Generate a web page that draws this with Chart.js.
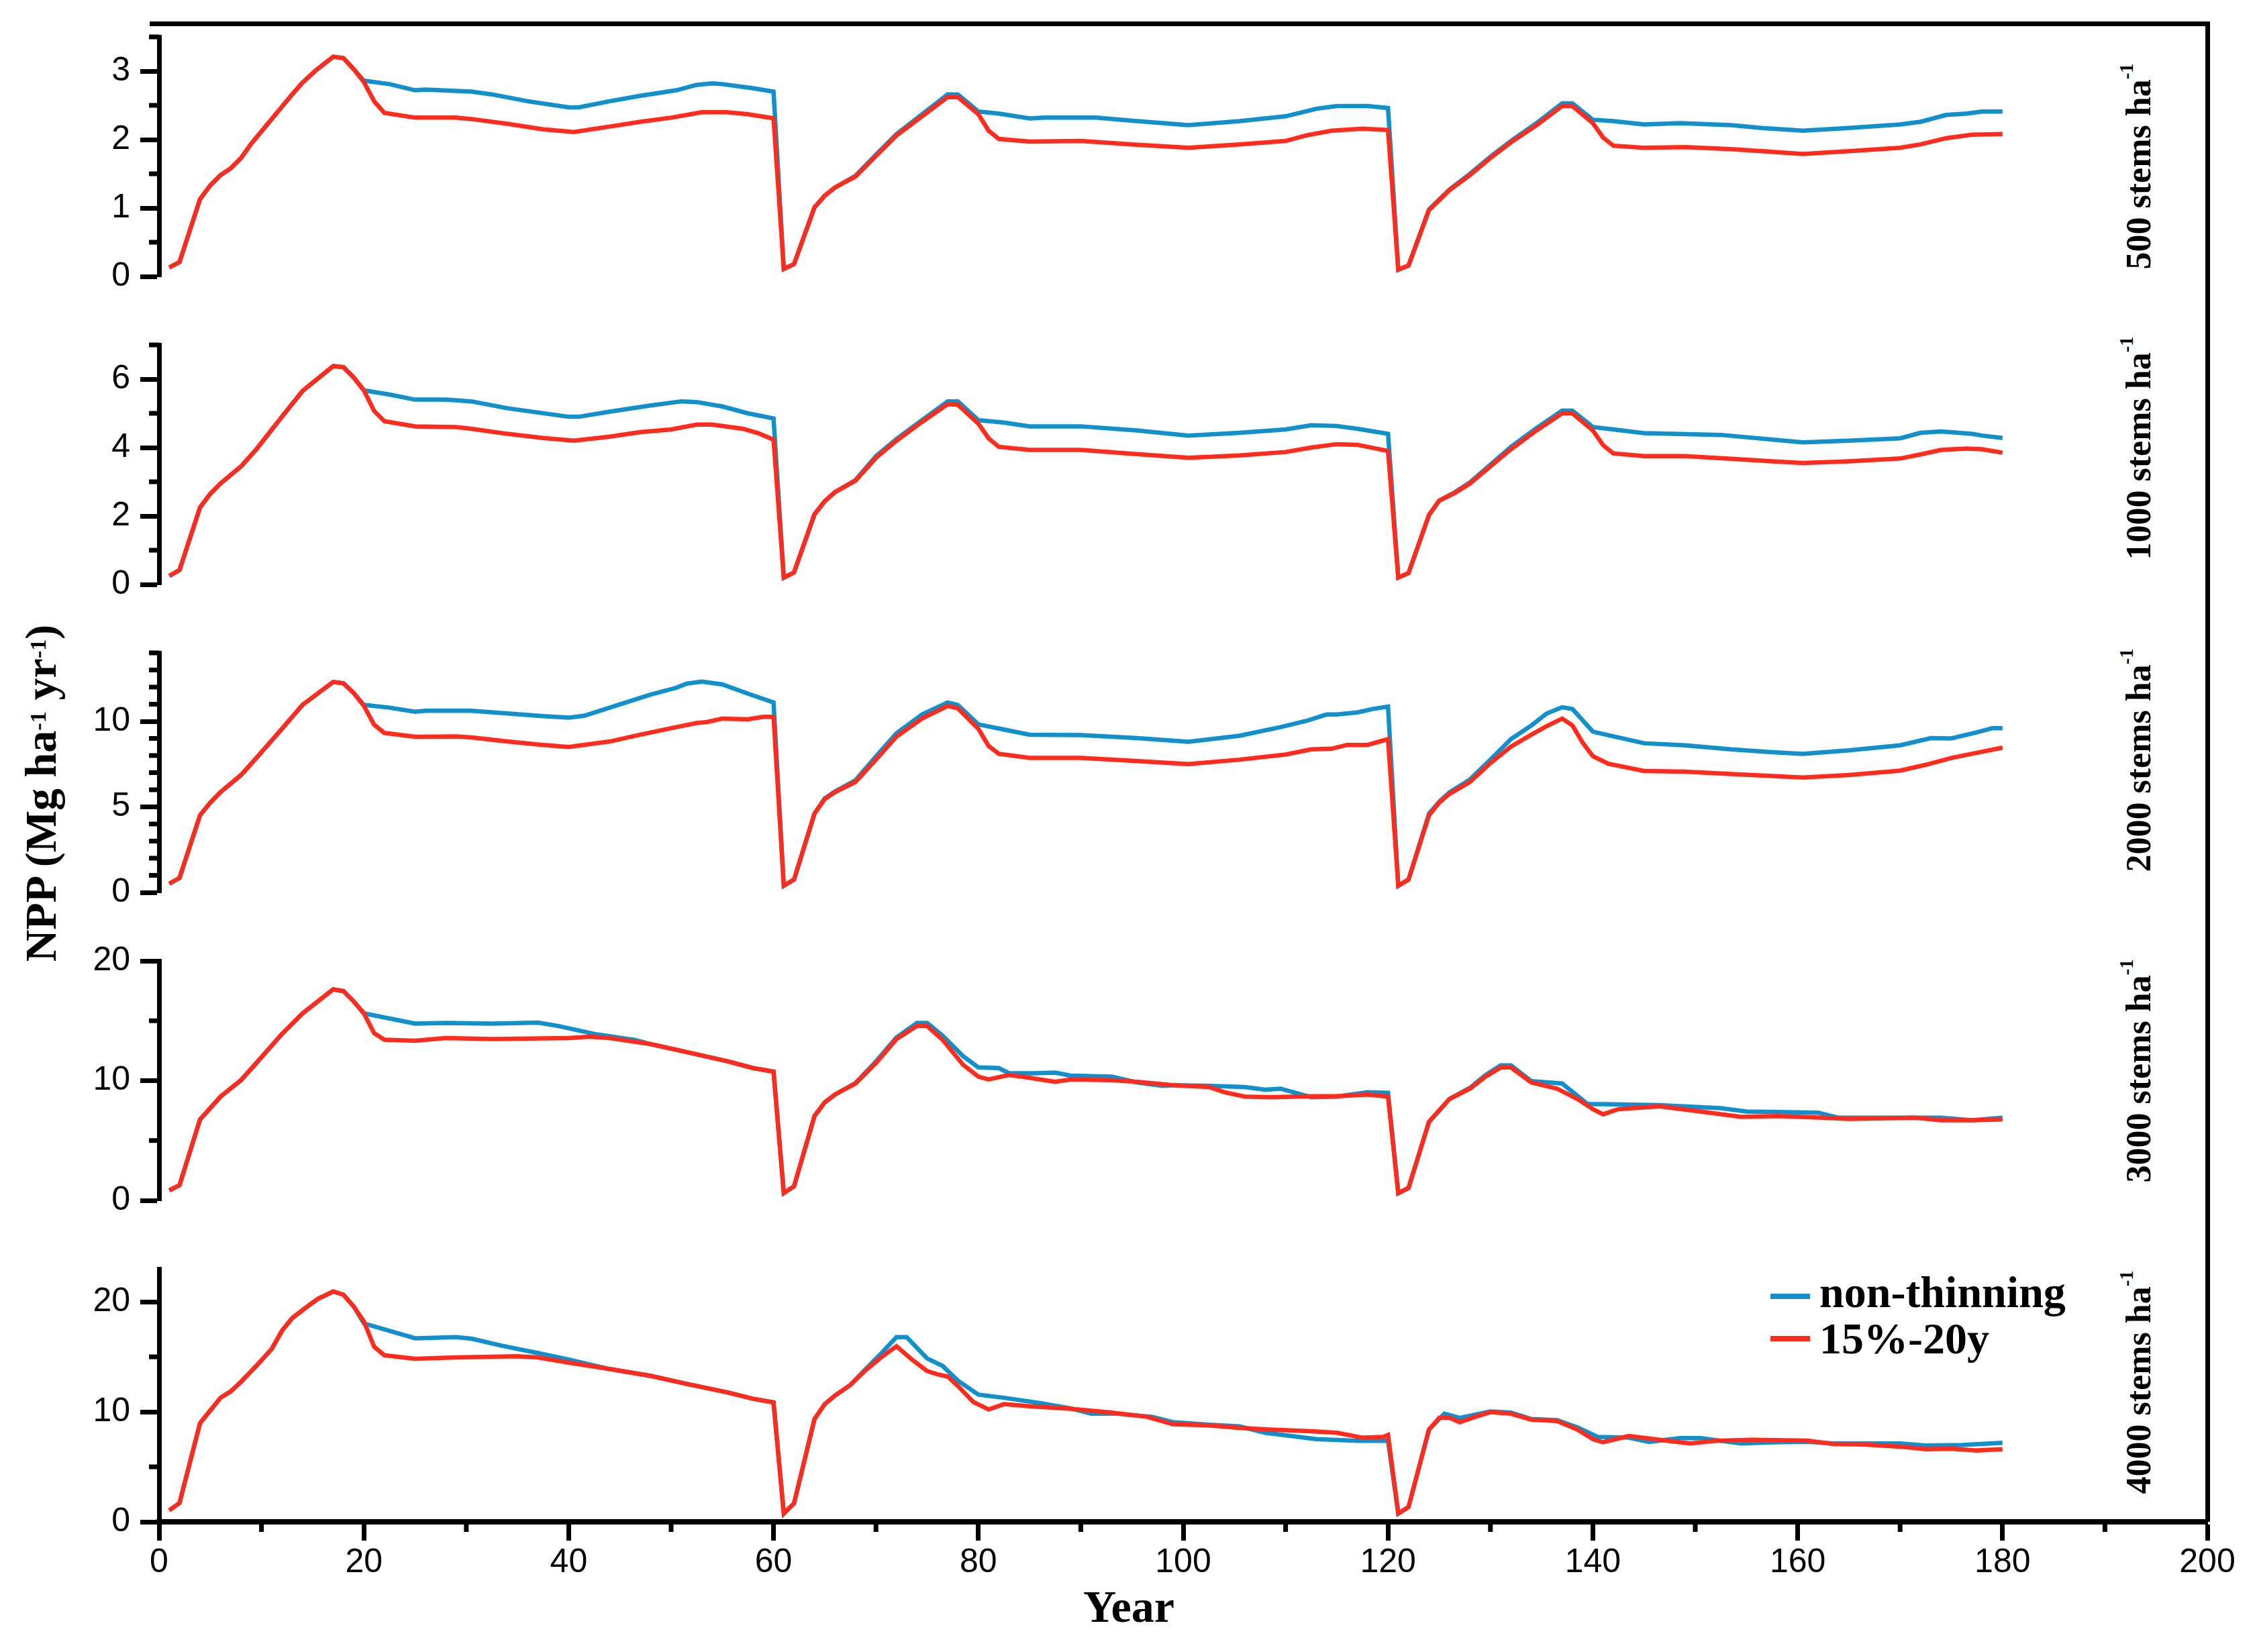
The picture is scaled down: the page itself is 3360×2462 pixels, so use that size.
<!DOCTYPE html>
<html>
<head>
<meta charset="utf-8">
<script src="https://cdn.jsdelivr.net/npm/chart.js@4.4.0/dist/chart.umd.min.js"></script>
<style>
html, body { margin: 0; padding: 0; background: #fff; }
#page { position: relative; width: 3360px; height: 2462px; overflow: hidden; background: #fff; }
#page canvas { position: absolute; left: 0; }
.frame { position: absolute; left: 223px; top: 32px; width: 3070px; height: 2236px;
         border-top: 7px solid #000; border-right: 7px solid #000; box-sizing: border-box; }
.txt { position: absolute; white-space: nowrap; line-height: 1; color: #000;
       font-family: 'Liberation Serif', 'Times New Roman', serif; font-weight: bold; }
.rot { transform: translate(-50%, -50%) rotate(-90deg); }
.ytitle { font-size: 66px; left: 61px; top: 1182px; }
.ytitle .sup { font-size: 0.52em; vertical-align: 0.45em; }
.stems { font-size: 52px; left: 3184px; }
.stems .sup { font-size: 0.55em; vertical-align: 0.9em; }
.xtitle { font-size: 68px; left: 1682px; top: 2394px; transform: translate(-50%, -50%); }
</style>
</head>
<body>
<div id="page">
  <div class="frame"></div>
  <div class="txt rot ytitle">NPP (Mg ha<span class="sup">-1</span> yr<span class="sup">-1</span>)</div>
  <div class="txt rot stems" style="top:248px">500 stems ha<span class="sup">-1</span></div>
  <div class="txt rot stems" style="top:668px">1000 stems ha<span class="sup">-1</span></div>
  <div class="txt rot stems" style="top:1133px">2000 stems ha<span class="sup">-1</span></div>
  <div class="txt rot stems" style="top:1596px">3000 stems ha<span class="sup">-1</span></div>
  <div class="txt rot stems" style="top:2060px">4000 stems ha<span class="sup">-1</span></div>
  <div class="txt xtitle">Year</div>
</div>
<script>
// NPP per stand density, [year, value]
const thin500 = [[1,0.13],[2,0.21],[4,1.13],[5,1.33],[6,1.48],[7,1.58],[8,1.73],[9,1.94],[10.5,2.21],[12,2.48],[13,2.66],[14,2.83],[15.3,3.01],[17,3.21],[18,3.19],[19,3.03],[20,2.84],[21,2.56],[22,2.39],[25,2.32],[29,2.32],[30.5,2.30],[34,2.23],[37.5,2.15],[40.5,2.11],[44,2.19],[47,2.26],[50,2.32],[53,2.40],[55.5,2.40],[57.5,2.37],[60,2.31],[61,0.11],[62,0.18],[64,1.01],[65,1.18],[66,1.30],[68,1.46],[70,1.76],[72,2.06],[74.5,2.34],[77,2.62],[78,2.62],[80,2.37],[81,2.13],[82,2.01],[85,1.97],[90,1.98],[95,1.93],[100.5,1.88],[105.5,1.93],[110,1.98],[112,2.06],[114.5,2.13],[117.5,2.16],[120,2.14],[121,0.10],[122,0.16],[124,0.97],[126,1.26],[128,1.48],[130,1.73],[132,1.96],[134.5,2.21],[137,2.49],[138,2.49],[140,2.24],[141,2.03],[142,1.91],[145,1.88],[149,1.89],[153.5,1.86],[157.5,1.82],[160.5,1.79],[165,1.83],[170,1.88],[172,1.93],[174.5,2.02],[177,2.07],[180,2.08]];
const non500 = [[1,0.13],[2,0.21],[4,1.13],[5,1.33],[6,1.48],[7,1.58],[8,1.73],[9,1.94],[10.5,2.21],[12,2.48],[13,2.66],[14,2.83],[15.3,3.01],[17,3.21],[18,3.19],[19,3.03],[20,2.86],[22.5,2.81],[25,2.72],[26,2.73],[30.5,2.70],[32.5,2.66],[36,2.56],[40,2.47],[41,2.47],[44,2.56],[47,2.64],[50.5,2.72],[52.5,2.80],[54,2.82],[55,2.81],[58,2.75],[60,2.70],[61,0.11],[62,0.18],[64,1.01],[65,1.18],[66,1.30],[68,1.47],[70,1.78],[72,2.08],[74.5,2.37],[77,2.66],[78,2.66],[80,2.41],[82,2.38],[85,2.31],[86.5,2.32],[91.5,2.32],[95.5,2.27],[100.5,2.21],[105.5,2.27],[110,2.34],[113,2.45],[115,2.49],[118,2.49],[120,2.46],[121,0.10],[122,0.16],[124,0.98],[126,1.27],[128,1.50],[130,1.75],[132,1.98],[134.5,2.24],[137,2.53],[138,2.53],[140,2.29],[142,2.27],[145,2.22],[148.5,2.24],[153.5,2.21],[156.5,2.17],[160.5,2.13],[165,2.17],[170,2.22],[172,2.26],[174.5,2.36],[176.5,2.38],[178,2.41],[180,2.41]];

const thin1000 = [[1,0.25],[2,0.42],[4,2.25],[5,2.65],[6,2.95],[8,3.45],[9.5,3.95],[12,4.90],[14,5.65],[17,6.38],[18,6.35],[19,6.05],[20,5.67],[21,5.07],[22,4.77],[25,4.62],[29,4.60],[30.5,4.55],[34,4.40],[37.5,4.28],[40.5,4.20],[44,4.32],[47,4.45],[50,4.53],[52.5,4.67],[54,4.67],[57,4.55],[58.5,4.42],[60,4.23],[61,0.20],[62,0.35],[64,2.05],[65,2.43],[66,2.70],[68,3.03],[70,3.70],[72,4.20],[74.5,4.75],[77,5.27],[78,5.25],[80,4.70],[81,4.27],[82,4.02],[85,3.93],[90,3.93],[95,3.82],[100.5,3.70],[105.5,3.77],[110,3.87],[112.5,4.00],[115,4.10],[117,4.08],[120,3.90],[121,0.20],[122,0.33],[124,2.03],[125,2.45],[126.5,2.67],[128,2.95],[130,3.45],[132,3.95],[134.5,4.50],[137,5.00],[138,5.00],[140,4.50],[141,4.07],[142,3.83],[145,3.75],[149,3.75],[153.5,3.67],[157.5,3.60],[160.5,3.55],[165,3.60],[170,3.68],[172,3.80],[174,3.93],[176.5,3.97],[178,3.95],[180,3.85]];
const non1000 = [[1,0.25],[2,0.42],[4,2.25],[5,2.65],[6,2.95],[8,3.45],[9.5,3.95],[12,4.90],[14,5.65],[17,6.38],[18,6.35],[19,6.05],[20,5.67],[22.5,5.55],[25,5.40],[28,5.40],[30.5,5.35],[34,5.15],[40,4.90],[41,4.90],[44,5.05],[48,5.23],[51,5.35],[52.5,5.33],[55,5.20],[57.5,5.00],[60,4.85],[61,0.20],[62,0.35],[64,2.05],[65,2.43],[66,2.70],[68,3.05],[70,3.75],[72,4.25],[74.5,4.80],[77,5.35],[78,5.35],[80,4.80],[82.5,4.73],[85,4.62],[90,4.62],[95.5,4.50],[100.5,4.35],[105.5,4.43],[110,4.53],[112.5,4.65],[115,4.63],[117,4.55],[120,4.40],[121,0.20],[122,0.33],[124,2.03],[125,2.45],[126.5,2.69],[128,2.98],[130,3.50],[132,4.02],[134.5,4.57],[137,5.08],[138,5.08],[140,4.60],[142,4.53],[145,4.42],[152.5,4.37],[160.5,4.15],[165,4.20],[170,4.27],[172,4.43],[174,4.47],[177,4.40],[178,4.35],[180,4.28]];

const thin2000 = [[1,0.51],[2,0.85],[4,4.51],[5,5.25],[6,5.86],[8,6.86],[9.5,7.86],[12,9.56],[14,10.96],[17,12.30],[18,12.22],[19,11.66],[20,10.90],[21,9.80],[22,9.32],[25,9.10],[29,9.12],[30.5,9.06],[34,8.82],[37.5,8.62],[40,8.50],[44,8.82],[47,9.22],[50.5,9.66],[52.5,9.90],[53.5,9.96],[55,10.16],[57.5,10.12],[59,10.26],[60,10.26],[61,0.39],[62,0.75],[64,4.61],[65,5.46],[66,5.86],[68,6.46],[70,7.76],[72,9.10],[74.5,10.16],[77,10.90],[78,10.76],[80,9.56],[81,8.56],[82,8.10],[85,7.86],[90,7.86],[95,7.70],[100.5,7.50],[105.5,7.76],[110,8.06],[112.5,8.36],[114.5,8.40],[116,8.62],[118,8.62],[120,8.96],[121,0.39],[122,0.75],[124,4.51],[125,5.25],[126,5.76],[128,6.46],[130,7.56],[132,8.52],[134,9.22],[135.5,9.72],[137,10.16],[138,9.76],[139,8.76],[140,7.96],[141.5,7.52],[145,7.10],[149,7.06],[153.5,6.92],[157.5,6.80],[160.5,6.72],[165,6.86],[170,7.12],[172.5,7.46],[175,7.86],[177.5,8.16],[180,8.46]];
const non2000 = [[1,0.51],[2,0.85],[4,4.51],[5,5.25],[6,5.86],[8,6.86],[9.5,7.86],[12,9.56],[14,10.96],[17,12.30],[18,12.22],[19,11.66],[20,10.96],[22.5,10.80],[25,10.56],[26,10.62],[30.5,10.62],[34,10.46],[37.5,10.30],[40,10.22],[41.5,10.32],[44.5,10.90],[48,11.56],[50.5,11.96],[51.5,12.20],[53,12.32],[55,12.16],[57.5,11.62],[60,11.10],[61,0.39],[62,0.75],[64,4.61],[65,5.50],[66,5.90],[68,6.55],[70,7.95],[72,9.30],[74.5,10.40],[77,11.10],[78,10.95],[80,9.82],[82.5,9.52],[85,9.22],[90,9.20],[95.5,9.02],[100.5,8.80],[105.5,9.16],[109.5,9.66],[112,10.02],[114,10.40],[115,10.40],[117,10.52],[118.5,10.72],[120,10.86],[121,0.39],[122,0.75],[124,4.60],[125,5.30],[126,5.85],[128,6.60],[130,7.76],[132,8.96],[134,9.76],[135.5,10.46],[137,10.82],[138,10.72],[140,9.40],[142,9.12],[145,8.72],[149,8.60],[153.5,8.36],[157.5,8.20],[160.5,8.10],[165,8.30],[170,8.60],[173,9.02],[175,9.00],[177.5,9.36],[179,9.60],[180,9.60]];

const thin3000 = [[1,0.84],[2,1.27],[4,6.76],[5,7.70],[6,8.67],[8,10.04],[9.5,11.47],[12,13.90],[14,15.60],[17,17.62],[18,17.48],[19,16.62],[20,15.62],[21,13.96],[22,13.42],[25,13.33],[28,13.56],[32.5,13.47],[37.5,13.53],[40,13.56],[42,13.67],[44,13.56],[48,13.05],[51.5,12.39],[55.5,11.62],[58,11.05],[60,10.76],[61,0.61],[62,1.18],[64,7.04],[65,8.19],[66,8.84],[68,9.76],[70,11.47],[72,13.47],[74,14.56],[75,14.56],[76.5,13.42],[78.5,11.33],[80,10.33],[81,10.10],[83,10.47],[85,10.24],[87.5,9.90],[89,10.10],[93,10.04],[95.5,9.90],[99,9.62],[102.5,9.47],[104,9.04],[106,8.67],[108.5,8.62],[112.5,8.70],[115,8.70],[118,8.84],[120,8.67],[121,0.61],[122,1.04],[124,6.56],[126,8.47],[128,9.33],[129.5,10.33],[131,11.10],[132,11.10],[134,9.85],[136.5,9.33],[138.5,8.47],[140,7.62],[141,7.19],[142.5,7.62],[146.5,7.85],[150.5,7.42],[154.5,6.98],[158,7.04],[162.5,6.90],[165,6.81],[171.5,6.90],[174,6.70],[177,6.70],[180,6.76]];
const non3000 = [[1,0.84],[2,1.27],[4,6.76],[5,7.70],[6,8.67],[8,10.04],[9.5,11.47],[12,13.90],[14,15.60],[17,17.62],[18,17.48],[19,16.62],[20,15.62],[25,14.76],[28,14.82],[32.5,14.76],[37,14.85],[39,14.56],[42.5,13.90],[46.5,13.39],[48,13.05],[51.5,12.39],[55.5,11.62],[58,11.05],[60,10.76],[61,0.61],[62,1.18],[64,7.04],[65,8.19],[66,8.84],[68,9.80],[70,11.60],[72,13.60],[74,14.82],[75,14.82],[76.5,13.76],[78.5,12.05],[80,11.10],[82,11.05],[83,10.62],[85.5,10.62],[87.5,10.67],[89,10.42],[93,10.33],[95.5,9.85],[98,9.56],[99,9.62],[102.5,9.56],[106,9.47],[108,9.24],[109.5,9.33],[112.5,8.62],[115,8.67],[118,9.04],[120,8.98],[121,0.61],[122,1.04],[124,6.56],[126,8.47],[128,9.40],[129.5,10.45],[131,11.28],[132,11.28],[134,9.96],[137,9.76],[139.5,8.04],[141,8.04],[146.5,7.96],[152.5,7.70],[155,7.42],[162,7.33],[164,6.90],[171.5,6.90],[174,6.90],[177,6.70],[180,6.90]];

const thin4000 = [[1,1.05],[2,1.72],[4,8.97],[5,10.12],[6,11.28],[7,11.86],[8,12.73],[9.5,14.18],[11,15.72],[12,17.37],[13,18.52],[14.5,19.59],[15.5,20.26],[17,20.94],[18,20.65],[19,19.59],[20,18.23],[21,15.92],[22,15.14],[25,14.82],[29,14.95],[35,15.05],[37,14.95],[40,14.47],[44,13.89],[48,13.27],[51.5,12.54],[55.5,11.77],[58,11.19],[60,10.86],[61,0.76],[62,1.67],[64,9.35],[65,10.70],[66,11.48],[67.5,12.44],[69,13.79],[70.5,14.95],[72,15.96],[73.5,14.76],[75,13.70],[76,13.41],[77,13.21],[78,12.35],[79.5,10.90],[81,10.22],[82.5,10.70],[85,10.51],[89,10.28],[93,9.93],[96.5,9.54],[99,8.87],[102.5,8.77],[105.5,8.54],[108.5,8.39],[112.5,8.23],[115,8.10],[117.5,7.65],[119.5,7.71],[120,7.90],[121,0.76],[122,1.34],[124,8.39],[125,9.45],[126,9.45],[127,9.06],[128.5,9.54],[130,9.97],[132,9.83],[134,9.29],[136.5,9.16],[138.5,8.39],[140,7.52],[141,7.23],[143.5,7.81],[146.5,7.46],[149.5,7.13],[152,7.36],[155.5,7.46],[161,7.38],[163.5,7.07],[166.5,7.03],[170,6.84],[172.5,6.61],[175,6.65],[177.5,6.49],[180,6.61]];
const non4000 = [[1,1.05],[2,1.72],[4,8.97],[5,10.12],[6,11.28],[7,11.86],[8,12.73],[9.5,14.18],[11,15.72],[12,17.37],[13,18.52],[14.5,19.59],[15.5,20.26],[17,20.94],[18,20.65],[19,19.59],[20,18.04],[25,16.69],[29,16.79],[30.5,16.65],[33.5,16.01],[37,15.34],[40,14.76],[44,13.89],[48,13.27],[51.5,12.54],[55.5,11.77],[58,11.19],[60,10.86],[61,0.76],[62,1.67],[64,9.35],[65,10.70],[66,11.48],[67.5,12.44],[69,13.90],[70.5,15.30],[72,16.79],[73,16.79],[75,14.85],[76.5,14.18],[78,12.83],[80,11.57],[82.5,11.28],[86,10.80],[89,10.32],[91,9.83],[93.5,9.83],[97,9.54],[99,9.06],[102.5,8.83],[105.5,8.68],[108,8.10],[110.5,7.81],[113,7.52],[117,7.36],[120,7.36],[121,0.76],[122,1.34],[124,8.39],[125.5,9.83],[127,9.45],[130,10.03],[132,9.93],[134,9.35],[136.5,9.25],[138.5,8.58],[140.5,7.71],[143.5,7.65],[145.5,7.27],[148.5,7.61],[150.5,7.61],[154.5,7.13],[157.5,7.23],[161,7.27],[163.5,7.13],[170,7.13],[172.5,6.94],[176,6.98],[180,7.19]];

const yearTicks = [0, 20, 40, 60, 80, 100, 120, 140, 160, 180, 200];
const seriesNames = ['non-thinning', '15%-20y'];

const BLUE = '#1190cc';
const RED = '#ff2b1c';
const TICK_FONT = { family: "'Liberation Sans', Arial, Helvetica, sans-serif", size: 50 };

// panel layout on the page (pixels)
const PANEL_H = 397;
const panels = [
    { bottom: 432,  max: 3.5, major: 1,  minor: 0.5, thin: thin500,  non: non500 },
    { bottom: 891,  max: 7,   major: 2,  minor: 1,   thin: thin1000, non: non1000 },
    { bottom: 1350, max: 14,  major: 5,  minor: 1,   thin: thin2000, non: non2000 },
    { bottom: 1809, max: 20,  major: 10, minor: 5,   thin: thin3000, non: non3000 },
    { bottom: 2268, max: 23,  major: 10, minor: 5,   thin: thin4000, non: non4000, showX: true }
];

const toXY = arr => arr.map(p => ({ x: p[0], y: p[1] }));

// short minor ticks on y (and x in the bottom panel)
const minorTicks = {
    id: 'minorTicks',
    afterDraw(chart, args, opts) {
        const ctx = chart.ctx;
        ctx.save();
        ctx.strokeStyle = '#000';
        ctx.lineWidth = 7;
        const ys = chart.scales.y;
        const n = Math.floor(ys.max / opts.minor + 1e-9);
        for (let i = 0; i <= n; i++) {
            const v = i * opts.minor;
            if (Math.abs(v / opts.major - Math.round(v / opts.major)) < 1e-6) continue;
            const py = ys.getPixelForValue(v);
            ctx.beginPath();
            ctx.moveTo(ys.right - 15, py);
            ctx.lineTo(ys.right, py);
            ctx.stroke();
        }
        if (opts.showX) {
            const xs = chart.scales.x;
            for (let v = 10; v < 200; v += 20) {
                const px = xs.getPixelForValue(v);
                ctx.beginPath();
                ctx.moveTo(px, xs.top);
                ctx.lineTo(px, xs.top + 15);
                ctx.stroke();
            }
        }
        ctx.restore();
    }
};

// legend inside the bottom panel
const insideLegend = {
    id: 'insideLegend',
    afterDraw(chart, args, opts) {
        if (!opts.show) return;
        const ctx = chart.ctx;
        const top = chart.canvas.offsetTop;
        const rows = [
            { label: seriesNames[0], color: BLUE, lineY: 1932, base: 1948 },
            { label: seriesNames[1], color: RED, lineY: 1995, base: 2017 }
        ];
        ctx.save();
        ctx.font = "bold 66px 'Liberation Serif', 'Times New Roman', serif";
        ctx.fillStyle = '#000';
        ctx.textBaseline = 'alphabetic';
        rows.forEach(r => {
            ctx.strokeStyle = r.color;
            ctx.lineWidth = 8;
            ctx.beginPath();
            ctx.moveTo(2638, r.lineY - top);
            ctx.lineTo(2697, r.lineY - top);
            ctx.stroke();
            ctx.fillText(r.label, 2711, r.base - top);
        });
        ctx.restore();
    }
};

const page = document.getElementById('page');
window.nppCharts = [];

panels.forEach((p, idx) => {
    const padTop = 25;
    const xH = p.showX ? 194 : 0;
    const padBottom = p.showX ? 0 : 25;
    const canvasTop = p.bottom - PANEL_H - padTop;
    const canvasH = padTop + PANEL_H + (p.showX ? xH : padBottom);

    const cv = document.createElement('canvas');
    cv.width = 3360;
    cv.height = canvasH;
    cv.style.top = canvasTop + 'px';
    cv.style.width = '3360px';
    cv.style.height = canvasH + 'px';
    page.appendChild(cv);

    const axisGrid = {
        display: true, drawOnChartArea: false, drawTicks: true,
        tickLength: 28, tickWidth: 7, tickColor: '#000'
    };

    window.nppCharts.push(new Chart(cv, {
        type: 'line',
        data: {
            datasets: [
                { label: seriesNames[1], data: toXY(p.thin), borderColor: RED, borderWidth: 6.5,
                  pointRadius: 0, tension: 0, fill: false },
                { label: seriesNames[0], data: toXY(p.non), borderColor: BLUE, borderWidth: 6.5,
                  pointRadius: 0, tension: 0, fill: false }
            ]
        },
        options: {
            responsive: false,
            animation: false,
            devicePixelRatio: 1,
            layout: { padding: { left: 0, right: 71, top: padTop, bottom: padBottom } },
            plugins: {
                legend: { display: false },
                tooltip: { enabled: false },
                minorTicks: { minor: p.minor, major: p.major, showX: !!p.showX },
                insideLegend: { show: !!p.showX }
            },
            scales: {
                x: {
                    type: 'linear', min: 0, max: 200, display: !!p.showX,
                    afterBuildTicks: s => { s.ticks = yearTicks.map(v => ({ value: v })); },
                    ticks: { font: TICK_FONT, color: '#000', padding: 3, maxRotation: 0, autoSkip: false },
                    grid: axisGrid,
                    border: { display: true, width: 8, color: '#000' },
                    afterFit: s => { s.height = xH; }
                },
                y: {
                    type: 'linear', min: 0, max: p.max,
                    ticks: { stepSize: p.major, includeBounds: false, font: TICK_FONT, color: '#000', padding: 15 },
                    grid: axisGrid,
                    border: { display: true, width: 7, color: '#000' },
                    afterFit: s => { s.width = 237; }
                }
            }
        },
        plugins: [minorTicks, insideLegend]
    }));
});
</script>
</body>
</html>
